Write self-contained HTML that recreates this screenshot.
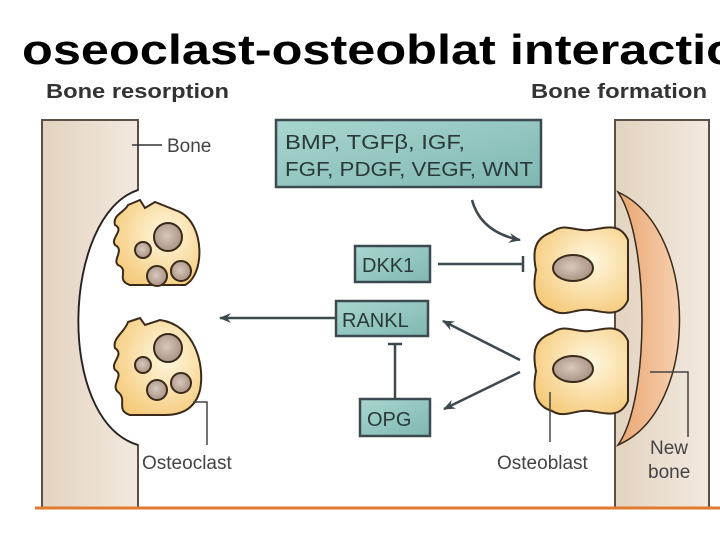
<!DOCTYPE html>
<html><head><meta charset="utf-8"><style>
html,body{margin:0;padding:0;background:#fff;width:720px;height:540px;overflow:hidden}
svg{display:block}
text{font-family:"Liberation Sans",sans-serif}
</style></head><body>
<svg width="720" height="540" viewBox="0 0 720 540" xmlns="http://www.w3.org/2000/svg">
<defs>
<linearGradient id="bone" x1="0" x2="1" y1="0" y2="0"><stop offset="0" stop-color="#e3d3c0"/><stop offset="1" stop-color="#f2e9df"/></linearGradient>
<linearGradient id="box" x1="0" x2="1" y1="0" y2="1"><stop offset="0" stop-color="#a9d6cf"/><stop offset="1" stop-color="#7fb8b0"/></linearGradient>
<radialGradient id="cell" cx="0.6" cy="0.4" r="0.7"><stop offset="0" stop-color="#fff8e0"/><stop offset="1" stop-color="#f5c978"/></radialGradient>
<radialGradient id="nuc" cx="0.45" cy="0.45" r="0.6"><stop offset="0" stop-color="#d8c8bc"/><stop offset="1" stop-color="#a68f80"/></radialGradient>
<linearGradient id="nb" x1="0" x2="1"><stop offset="0" stop-color="#e9a672"/><stop offset="1" stop-color="#f6d0b0"/></linearGradient>
<marker id="ah" markerWidth="14" markerHeight="14" refX="11" refY="6" orient="auto" markerUnits="userSpaceOnUse"><path d="M0,1 L12,6 L0,11 L4,6 Z" fill="#3c4a50"/></marker>
</defs>
<text x="22" y="64" font-size="42" font-weight="bold" textLength="715" lengthAdjust="spacingAndGlyphs">oseoclast-osteoblat interactio</text>
<text x="46" y="98" font-size="20" font-weight="bold" fill="#333" textLength="183" lengthAdjust="spacingAndGlyphs">Bone resorption</text>
<text x="531" y="98" font-size="20" font-weight="bold" fill="#333" textLength="176" lengthAdjust="spacingAndGlyphs">Bone formation</text>

<path d="M42,120 L138,120 L138,190 C62,215 55,420 138,445 L138,508 L42,508 Z" fill="url(#bone)" stroke="#5a5048" stroke-width="2"/>
<path d="M138,190 C62,215 55,420 138,445" fill="none" stroke="#222" stroke-width="1.5"/>
<line x1="132" y1="145" x2="162" y2="145" stroke="#333" stroke-width="1.5"/>
<text x="167" y="152" font-size="19" fill="#444">Bone</text>

<g stroke="#3a2a1a" stroke-width="2">
<path d="M128,205 L140,200 L145,208 L155,202 L180,212 C205,225 205,275 185,285 L130,285 C115,280 130,270 118,265 C112,260 125,250 115,245 C110,238 125,230 115,225 C112,215 125,212 128,205 Z" fill="url(#cell)"/>
<path d="M128,322 L140,318 L145,325 L160,320 C195,325 205,365 200,390 C195,410 180,415 165,415 L130,415 C115,410 128,400 118,392 C110,385 125,375 115,370 C110,362 125,355 115,348 C112,338 125,332 128,322 Z" fill="url(#cell)"/>
<circle cx="168" cy="237" r="14" fill="url(#nuc)"/>
<circle cx="143" cy="250" r="8" fill="url(#nuc)"/>
<circle cx="157" cy="276" r="10" fill="url(#nuc)"/>
<circle cx="181" cy="271" r="10" fill="url(#nuc)"/>
<circle cx="168" cy="348" r="14" fill="url(#nuc)"/>
<circle cx="143" cy="365" r="8" fill="url(#nuc)"/>
<circle cx="157" cy="390" r="10" fill="url(#nuc)"/>
<circle cx="181" cy="383" r="10" fill="url(#nuc)"/>
</g>
<polyline points="193,402 207,402 207,445" fill="none" stroke="#444" stroke-width="1.5"/>
<text x="142" y="469" font-size="19" fill="#444">Osteoclast</text>

<rect x="615" y="120" width="94" height="388" fill="url(#bone)" stroke="#5a5048" stroke-width="2"/>
<path d="M618,192 C700,230 700,410 618,445 C650,400 650,240 618,192 Z" fill="url(#nb)" stroke="#3a2a1a" stroke-width="1.5"/>
<polyline points="650,372 688,372 688,437" fill="none" stroke="#444" stroke-width="1.5"/>
<text x="650" y="454" font-size="19" fill="#444">New</text>
<text x="648" y="478" font-size="19" fill="#444">bone</text>

<g stroke="#3a2a1a" stroke-width="2">
<path d="M552,232 C565,222 575,232 590,230 C605,228 620,222 628,240 L628,300 C620,318 605,312 590,310 C575,308 565,318 552,310 C535,305 532,290 536,270 C532,250 535,238 552,232 Z" fill="url(#cell)"/>
<path d="M552,333 C565,323 575,333 590,331 C605,329 620,323 628,341 L628,401 C620,419 605,413 590,411 C575,409 565,419 552,411 C535,406 532,391 536,371 C532,351 535,339 552,333 Z" fill="url(#cell)"/>
<ellipse cx="573" cy="268" rx="20" ry="13" fill="url(#nuc)"/>
<ellipse cx="573" cy="369" rx="20" ry="13" fill="url(#nuc)"/>
</g>
<line x1="550" y1="392" x2="550" y2="442" stroke="#444" stroke-width="1.5"/>
<text x="497" y="469" font-size="19" fill="#444">Osteoblast</text>

<g stroke="#3c4a50" stroke-width="2.5" fill="url(#box)">
<rect x="276" y="120" width="265" height="67"/>
<rect x="355" y="246" width="75" height="36"/>
<rect x="336" y="301" width="92" height="35"/>
<rect x="360" y="399" width="70" height="37"/>
</g>
<g font-size="20" fill="#2a3a3a">
<text x="285" y="149" textLength="180" lengthAdjust="spacingAndGlyphs">BMP, TGFβ, IGF,</text>
<text x="285" y="176" textLength="248" lengthAdjust="spacingAndGlyphs">FGF, PDGF, VEGF, WNT</text>
<text x="362" y="272">DKK1</text>
<text x="342" y="327">RANKL</text>
<text x="367" y="426">OPG</text>
</g>

<g stroke="#3c4a50" stroke-width="2.5" fill="none">
<path d="M472,200 C478,222 495,235 520,240" marker-end="url(#ah)"/>
<line x1="438" y1="264" x2="522" y2="264"/>
<line x1="523" y1="256" x2="523" y2="272"/>
<line x1="336" y1="318" x2="220" y2="318" marker-end="url(#ah)"/>
<line x1="520" y1="360" x2="443" y2="321" marker-end="url(#ah)"/>
<line x1="520" y1="372" x2="444" y2="409" marker-end="url(#ah)"/>
<line x1="395" y1="398" x2="395" y2="345"/>
<line x1="388" y1="344" x2="402" y2="344"/>
</g>
<line x1="35" y1="508" x2="720" y2="508" stroke="#e07a30" stroke-width="3"/>
</svg>
</body></html>
